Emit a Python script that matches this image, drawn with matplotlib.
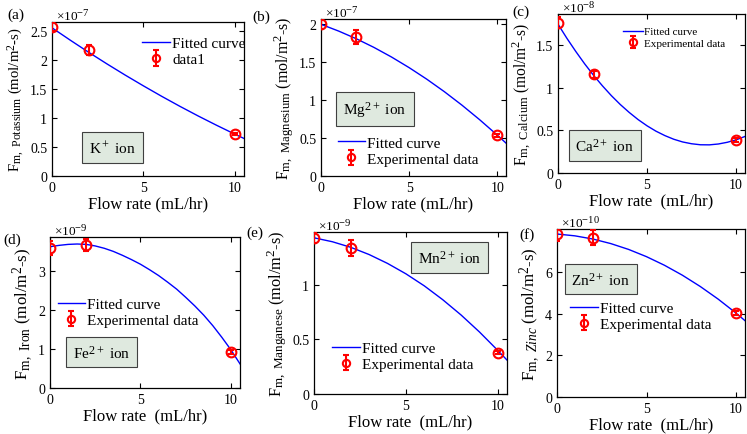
import matplotlib
matplotlib.use("Agg")
import matplotlib.pyplot as plt
import matplotlib._mathtext as mt

# MATLAB draws the subscripts larger than matplotlib's default 0.7
mt.SHRINK_FACTOR = 0.8

plt.rcParams["font.family"] = ["Liberation Serif", "DejaVu Serif"]
plt.rcParams["mathtext.fontset"] = "custom"
plt.rcParams["mathtext.rm"] = "Liberation Serif"
plt.rcParams["mathtext.it"] = "Liberation Serif:italic"

# measured points (flow rate mL/hr) and values in units of 10^exp
flow = [0, 2, 10]
curve_x = [0, 1, 2, 3, 4, 5, 6, 7, 8, 9, 10, 10.5]
curve_x_fine = [0, 0.5, 1, 1.5, 2, 2.5, 3, 3.5, 4, 4.5, 5, 5.5, 6, 6.5, 7, 7.5, 8, 8.5, 9, 9.5, 10, 10.5]

k_y = [2.57, 2.17, 0.72]
k_err = [0.08, 0.09, 0.02]
k_fit = [2.55, 2.337, 2.130, 1.930, 1.737, 1.551, 1.371, 1.198, 1.032, 0.873, 0.720, 0.646]

mg_y = [2.0, 1.835, 0.54]
mg_err = [0.06, 0.09, 0.02]
mg_fit = [2.0, 1.911, 1.810, 1.696, 1.569, 1.429, 1.277, 1.112, 0.934, 0.743, 0.540, 0.434]

ca_y = [1.77, 1.16, 0.39]
ca_err = [0.07, 0.04, 0.02]
ca_fit = [1.75, 1.584, 1.429, 1.283, 1.148, 1.024, 0.909, 0.805, 0.712, 0.628, 0.555,
          0.492, 0.440, 0.397, 0.365, 0.344, 0.332, 0.331, 0.341, 0.361, 0.390, 0.430]

fe_y = [3.60, 3.68, 0.92]
fe_err = [0.19, 0.16, 0.05]
fe_fit = [3.63, 3.665, 3.69, 3.70, 3.69, 3.65, 3.59, 3.51, 3.41, 3.30, 3.18,
          3.04, 2.89, 2.72, 2.54, 2.33, 2.11, 1.87, 1.60, 1.30, 0.98, 0.62]

mn_y = [1.427, 1.335, 0.378]
mn_err = [0.05, 0.07, 0.015]
mn_fit = [1.427, 1.391, 1.340, 1.274, 1.193, 1.098, 0.988, 0.862, 0.722, 0.567, 0.398, 0.310]

zn_y = [7.81, 7.62, 4.02]
zn_err = [0.35, 0.36, 0.08]
zn_fit = [7.81, 7.722, 7.570, 7.352, 7.071, 6.724, 6.313, 5.837, 5.296, 4.691, 4.020, 3.658]

W, H = 747, 435
fig = plt.figure(figsize=(W / 100, H / 100), dpi=100)


def px_axes(left, right, top, bottom):
    return fig.add_axes([left / W, 1 - bottom / H, (right - left) / W, (bottom - top) / H])


panels = [
    dict(ax=(52, 244, 23, 177), tag="(a)", tagpos=(16, 15), ion=r"K$^+$ ion", name=r"{\rm Potassium}",
         cx=curve_x, y=k_y, err=k_err, fit=k_fit, exp=-7, ylim=2.65, yt=[0, 0.5, 1, 1.5, 2, 2.5],
         box=(0.315, 0.185), leg=(0.47, 0.905), fs=11, lab2="data1", xl="Flow rate (mL/hr)", yfs=10.6),
    dict(ax=(321, 506, 20, 177), tag="(b)", tagpos=(261, 17), ion=r"Mg$^{2+}$ ion", name=r"{\rm Magnesium}",
         cx=curve_x, y=mg_y, err=mg_err, fit=mg_fit, exp=-7, ylim=2.07, yt=[0, 0.5, 1, 1.5, 2],
         box=(0.292, 0.427), leg=(0.09, 0.255), fs=11, lab2="Experimental data", xl="Flow rate (mL/hr)", yfs=11.4),
    dict(ax=(558, 745, 15, 174), tag="(c)", tagpos=(521, 12), ion=r"Ca$^{2+}$ ion", name=r"{\rm Calcium}",
         cx=curve_x_fine, y=ca_y, err=ca_err, fit=ca_fit, exp=-8, ylim=1.87, yt=[0, 0.5, 1, 1.5],
         box=(0.251, 0.173), leg=(0.345, 0.92), fs=8, lab2="Experimental data", xl="Flow rate  (mL/hr)", yfs=11.2),
    dict(ax=(50, 240, 238, 389), tag="(d)", tagpos=(12, 240), ion=r"Fe$^{2+}$ ion", name=r"{\rm Iron}",
         cx=curve_x_fine, y=fe_y, err=fe_err, fit=fe_fit, exp=-9, ylim=3.88, yt=[0, 1, 2, 3],
         box=(0.271, 0.238), leg=(0.04, 0.60), fs=11, lab2="Experimental data", xl="Flow rate  (mL/hr)", yfs=12.2),
    dict(ax=(314, 507, 233, 395), tag="(e)", tagpos=(255, 233), ion=r"Mn$^{2+}$ ion", name=r"{\rm Manganese}",
         cx=curve_x, y=mn_y, err=mn_err, fit=mn_fit, exp=-9, ylim=1.48, yt=[0, 0.5, 1],
         box=(0.702, 0.843), leg=(0.095, 0.325), fs=11, lab2="Experimental data", xl="Flow rate  (mL/hr)", yfs=11.8),
    dict(ax=(557, 745, 230, 398), tag="(f)", tagpos=(527, 235), ion=r"Zn$^{2+}$ ion", name=r"{\it Zinc}",
         cx=curve_x, y=zn_y, err=zn_err, fit=zn_fit, exp=-10, ylim=8.05, yt=[0, 2, 4, 6],
         box=(0.234, 0.702), leg=(0.07, 0.57), fs=11, lab2="Experimental data", xl="Flow rate  (mL/hr)", yfs=12.2),
]

for p in panels:
    ax = px_axes(*p["ax"])
    line, = ax.plot(p["cx"], p["fit"], color="blue", lw=1.0, label="Fitted curve")
    eb = ax.errorbar(flow, p["y"], yerr=p["err"], fmt="o", color="red", mfc="none", mec="red",
                     ms=7, mew=1.5, elinewidth=1.5, capsize=2.5, capthick=1.5,
                     label=p["lab2"], zorder=3)
    ax.set_xlim(0, 10.5)
    ax.set_ylim(0, p["ylim"])
    ax.set_xticks([0, 5, 10])
    ax.set_yticks(p["yt"])
    ax.set_yticklabels([("%g" % v) for v in p["yt"]])
    ax.tick_params(direction="in", top=True, right=True, labelsize=10, length=3.5, width=0.8)
    for s in ax.spines.values():
        s.set_linewidth(0.9)
    ax.set_xlabel(p["xl"], fontsize=12, labelpad=1)
    ax.set_ylabel(r"F$_{\rm m,\ }$$_{%s}$ (mol/m$^2$-s)" % p["name"], fontsize=p["yfs"], labelpad=2)
    ax.text(0.02, 0.995, r"$\times$10$^{%d}$" % p["exp"], transform=ax.transAxes,
            fontsize=9.5, va="bottom", ha="left")
    ax.text(p["box"][0], p["box"][1], p["ion"], transform=ax.transAxes, fontsize=11,
            ha="center", va="center",
            bbox=dict(boxstyle="square,pad=0.45", fc="#dfe9df", ec="#404040", lw=0.8))
    ax.legend(handles=[line, eb], loc="upper left", bbox_to_anchor=p["leg"], frameon=False,
              fontsize=p["fs"], borderpad=0, borderaxespad=0, handlelength=1.8,
              handletextpad=0.15, labelspacing=0.15, markerscale=0.75)
    fig.text(p["tagpos"][0] / W, 1 - p["tagpos"][1] / H, p["tag"], fontsize=11,
             ha="center", va="center")

fig.savefig("out.png", dpi=100)
